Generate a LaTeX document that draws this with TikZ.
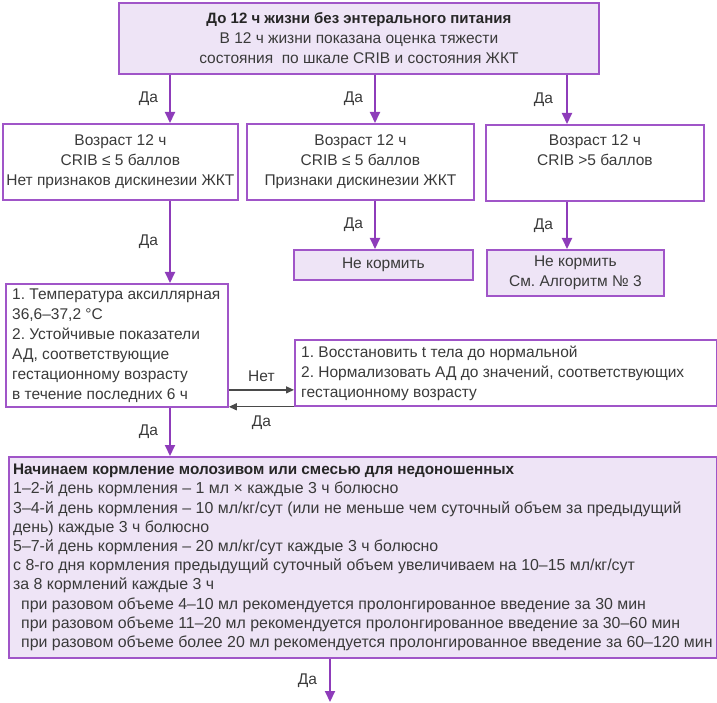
\documentclass[tikz,border=0pt]{standalone}
\usepackage{fontspec}
\setmainfont{Liberation Sans}
\usetikzlibrary{arrows.meta}
\definecolor{pborder}{HTML}{A055C8}
\definecolor{parrow}{HTML}{8E3CBA}
\definecolor{pfill}{HTML}{EEE4F6}
\definecolor{txt}{HTML}{3A3A3A}
\definecolor{darkg}{HTML}{4A4A4A}
\frenchspacing
\begin{document}
\begin{tikzpicture}[x=1pt,y=-1pt,
  font=\fontsize{15.5}{20}\selectfont,
  box/.style={draw=pborder, line width=1.8pt, rectangle, anchor=north west, inner sep=0pt, align=center, text=txt},
  fbox/.style={box, fill=pfill},
  tb/.style={anchor=west, align=left, inner sep=0pt, text=txt},
  arr/.style={draw=parrow, line width=2pt, -{Triangle[length=11pt,width=10pt]}},
  harr/.style={draw=darkg, line width=1.3pt, -{Triangle[length=8pt,width=7pt]}},
  lbl/.style={inner sep=0pt, text=txt}]
\useasboundingbox (0,0) rectangle (717,703);

% top box
\node[fbox, minimum width=480pt, minimum height=71pt] (top) at (118,2)
  {{\color{black!85}\fontsize{15}{20}\selectfont\textbf{До 12 ч жизни без энтерального питания}}\\В 12 ч жизни показана оценка тяжести\\состояния~~по шкале CRIB и состояния ЖКТ};

% second row
\node[box, minimum width=235pt, minimum height=76pt] (a) at (2,123)
  {Возраст 12 ч\\CRIB ≤ 5 баллов\\Нет признаков дискинезии ЖКТ};
\node[box, minimum width=227pt, minimum height=76pt] (b) at (246,123)
  {Возраст 12 ч\\CRIB ≤ 5 баллов\\Признаки дискинезии ЖКТ};
\node[box, minimum width=218pt, minimum height=76pt] (c) at (485,124)
  {Возраст 12 ч\\CRIB >5 баллов\\\strut};

\node[fbox, minimum width=179pt, minimum height=30pt] (nb) at (293,249) {Не кормить};
\node[fbox, minimum width=177pt, minimum height=46pt] (nc) at (486,249) {Не кормить\\См. Алгоритм № 3};

% box D
\node[box, minimum width=222pt, minimum height=123pt] (d) at (5,283) {};
\node[tb] (dt) at ([xshift=7pt]d.west)
  {1. Температура аксиллярная\\36,6–37,2 °C\\2. Устойчивые показатели\\АД, соответствующие\\гестационному возрасту\\в течение последних 6 ч};

% box E
\node[box, minimum width=422pt, minimum height=66pt] (e) at (294,339) {};
\node[tb] (et) at ([xshift=7pt]e.west)
  {1. Восстановить t тела до нормальной\\2. Нормализовать АД до значений, соответствующих\\гестационному возрасту};

% box F
\node[fbox, minimum width=708pt, minimum height=201pt] (f) at (8,456) {};
\node[tb, font=\fontsize{15.9}{19.2}\selectfont] (ft) at ([xshift=5pt]f.west)
  {{\color{black!85}\fontsize{15.3}{19.2}\selectfont\textbf{Начинаем кормление молозивом или смесью для недоношенных}}\\
   1–2-й день кормления – 1 мл × каждые 3 ч болюсно\\
   3–4-й день кормления – 10 мл/кг/сут (или не меньше чем суточный объем за предыдущий\\
   день) каждые 3 ч болюсно\\
   5–7-й день кормления – 20 мл/кг/сут каждые 3 ч болюсно\\
   с 8-го дня кормления предыдущий суточный объем увеличиваем на 10–15 мл/кг/сут\\
   за 8 кормлений каждые 3 ч\\
   \hspace*{8pt}при разовом объеме 4–10 мл рекомендуется пролонгированное введение за 30 мин\\
   \hspace*{8pt}при разовом объеме 11–20 мл рекомендуется пролонгированное введение за 30–60 мин\\
   \hspace*{8pt}при разовом объеме более 20 мл рекомендуется пролонгированное введение за 60–120 мин};

\coordinate (xa) at (170,0);
\coordinate (xb) at (375,0);
\coordinate (xc) at (567,0);
\coordinate (fend) at (330,702);

% arrows
\draw[arr] (top.south -| xa) -- node[lbl, left=11pt] (l1) {Да} (a.north -| xa);
\draw[arr] (top.south -| xb) -- node[lbl, left=11pt] (l2) {Да} (b.north -| xb);
\draw[arr] (top.south -| xc) -- node[lbl, left=13pt] (l3) {Да} (c.north -| xc);
\draw[arr] (a.south -| xa) -- node[lbl, left=11pt] (l4) {Да} (d.north -| xa);
\draw[arr] (b.south -| xb) -- node[lbl, left=11pt] (l5) {Да} (nb.north -| xb);
\draw[arr] (c.south -| xc) -- node[lbl, left=13pt] (l6) {Да} (nc.north -| xc);
\draw[arr] (d.south -| xa) -- node[lbl, left=11pt] (l7) {Да} (f.north -| xa);
\draw[arr] (f.south -| fend) -- node[lbl, left=12pt] (l8) {Да} (fend);

\draw[harr] ([yshift=-44.5pt]d.east) -- node[lbl, above=8pt] (l9) {Нет} ([yshift=-44.5pt]d.east -| e.west);
\draw[harr] (e.south west) -- node[lbl, below=8pt] (l10) {Да} (e.south west -| d.east);
\end{tikzpicture}
\end{document}
